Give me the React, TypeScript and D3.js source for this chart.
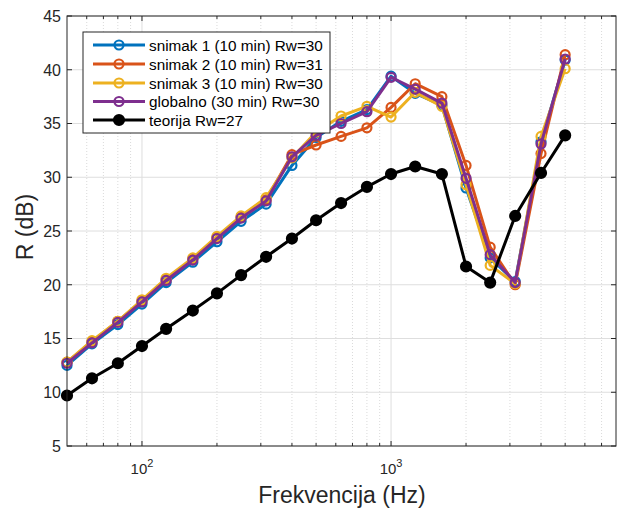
import React from "react";
import * as d3 from "d3";

const freqs = [50, 63, 80, 100, 125, 160, 200, 250, 315, 400, 500, 630, 800, 1000, 1250, 1600, 2000, 2500, 3150, 4000, 5000];
const snimak1 = [12.5, 14.5, 16.3, 18.2, 20.2, 22.1, 24.0, 25.9, 27.5, 31.1, 33.7, 35.2, 36.3, 39.4, 37.8, 36.7, 29.0, 22.5, 20.3, 33.3, 40.9];
const snimak2 = [12.8, 14.7, 16.6, 18.5, 20.5, 22.4, 24.4, 26.3, 27.9, 32.1, 33.0, 33.8, 34.6, 36.5, 38.7, 37.5, 31.1, 23.5, 20.0, 32.2, 41.4];
const snimak3 = [12.8, 14.8, 16.6, 18.6, 20.6, 22.5, 24.5, 26.4, 28.1, 31.8, 34.2, 35.7, 36.6, 35.6, 37.9, 36.6, 29.3, 21.8, 20.1, 33.8, 40.1];
const globalno = [12.7, 14.6, 16.5, 18.4, 20.4, 22.3, 24.3, 26.2, 27.8, 31.9, 33.9, 35.0, 36.1, 39.3, 38.2, 36.9, 29.9, 22.8, 20.2, 33.1, 41.0];
const teorija = [9.7, 11.3, 12.7, 14.3, 15.9, 17.6, 19.2, 20.9, 22.6, 24.3, 26.0, 27.6, 29.1, 30.3, 31.0, 30.3, 21.7, 20.2, 26.4, 30.4, 33.9];
const seriesNames = ["snimak 1 (10 min) Rw=30", "snimak 2 (10 min) Rw=31", "snimak 3 (10 min) Rw=30", "globalno (30 min) Rw=30", "teorija Rw=27"];
const seriesColors = ["#0072BD", "#D95319", "#EDB120", "#7E2F8E", "#000000"];
const yTicks = [5, 10, 15, 20, 25, 30, 35, 40, 45];
const xMajor = [100, 1000];
const xLabel = "Frekvencija (Hz)";
const yLabel = "R (dB)";

export default function App() {
  const W = 619, H = 510;
  const L = 67, R = 616, T = 16, B = 446;
  const x = d3.scaleLog().domain([50, 8000]).range([L, R]);
  const y = d3.scaleLinear().domain([5, 45]).range([B, T]);
  const allSeries = [snimak1, snimak2, snimak3, globalno, teorija];
  const line = d3.line<number>().x((_, i) => x(freqs[i])).y((d) => y(d));
  const minor: number[] = [];
  for (const dec of [10, 100, 1000]) {
    for (let k = 2; k <= 9; k++) {
      const v = dec * k;
      if (v > 50 && v < 8000 && !xMajor.includes(v)) minor.push(v);
    }
  }
  const axisColor = "#262626";
  const font = "Liberation Sans, Arial, Helvetica, sans-serif";
  const legX = 83, legY = 32, legW = 247, legH = 101;
  const rowY = [45, 64, 83, 101.5, 120];
  return (
    <svg width={W} height={H} style={{ position: "absolute", left: 0, top: 0, background: "#fff" }} fontFamily={font}>
      <rect x={0} y={0} width={W} height={H} fill="#fff" />
      {/* grid */}
      {minor.map((v) => (
        <line key={"mg" + v} x1={x(v)} x2={x(v)} y1={T} y2={B} stroke="#d0d0d0" strokeWidth={0.8} strokeDasharray="1,2" />
      ))}
      {xMajor.map((v) => (
        <line key={"xg" + v} x1={x(v)} x2={x(v)} y1={T} y2={B} stroke="#dedede" strokeWidth={1} />
      ))}
      {yTicks.map((v) => (
        <line key={"yg" + v} x1={L} x2={R} y1={y(v)} y2={y(v)} stroke="#dedede" strokeWidth={1} />
      ))}
      {/* ticks */}
      {yTicks.map((v) => (
        <g key={"yt" + v}>
          <line x1={L} x2={L + 5} y1={y(v)} y2={y(v)} stroke={axisColor} />
          <line x1={R} x2={R - 5} y1={y(v)} y2={y(v)} stroke={axisColor} />
          <text x={L - 6} y={y(v)} dy="0.36em" textAnchor="end" fontSize={16} fill={axisColor}>{v}</text>
        </g>
      ))}
      {xMajor.map((v) => (
        <g key={"xt" + v}>
          <line x1={x(v)} x2={x(v)} y1={B} y2={B - 5} stroke={axisColor} />
          <line x1={x(v)} x2={x(v)} y1={T} y2={T + 5} stroke={axisColor} />
          <text x={x(v)} y={B + 28} textAnchor="middle" fontSize={15} fill={axisColor}>
            10<tspan dy={-7} fontSize={11}>{Math.round(Math.log10(v))}</tspan>
          </text>
        </g>
      ))}
      {minor.map((v) => (
        <g key={"mt" + v}>
          <line x1={x(v)} x2={x(v)} y1={B} y2={B - 3} stroke={axisColor} />
          <line x1={x(v)} x2={x(v)} y1={T} y2={T + 3} stroke={axisColor} />
        </g>
      ))}
      {/* series */}
      {allSeries.map((s, si) => (
        <g key={"s" + si}>
          <path d={line(s) || ""} fill="none" stroke={seriesColors[si]} strokeWidth={3} strokeLinejoin="round" />
          {s.map((v, i) => (
            <circle key={i} cx={x(freqs[i])} cy={y(v)} r={si === 4 ? 5 : 4.5}
              fill={si === 4 ? "#000" : "none"} stroke={seriesColors[si]} strokeWidth={2.2} />
          ))}
        </g>
      ))}
      {/* box */}
      <rect x={L} y={T} width={R - L} height={B - T} fill="none" stroke={axisColor} strokeWidth={1} />
      {/* labels */}
      <text x={342} y={503} textAnchor="middle" fontSize={23} fill={axisColor}>{xLabel}</text>
      <text transform={`translate(33, 227) rotate(-90)`} textAnchor="middle" fontSize={23} fill={axisColor}>{yLabel}</text>
      {/* legend */}
      <rect x={legX} y={legY} width={legW} height={legH} fill="#fff" stroke={axisColor} strokeWidth={1} />
      {seriesNames.map((n, i) => (
        <g key={"l" + i}>
          <line x1={93} x2={145} y1={rowY[i]} y2={rowY[i]} stroke={seriesColors[i]} strokeWidth={3} />
          <circle cx={119} cy={rowY[i]} r={i === 4 ? 5 : 4.5} fill={i === 4 ? "#000" : "none"} stroke={seriesColors[i]} strokeWidth={2.2} />
          <text x={149} y={rowY[i]} dy="0.36em" fontSize={15.3} fill="#000">{n}</text>
        </g>
      ))}
    </svg>
  );
}
